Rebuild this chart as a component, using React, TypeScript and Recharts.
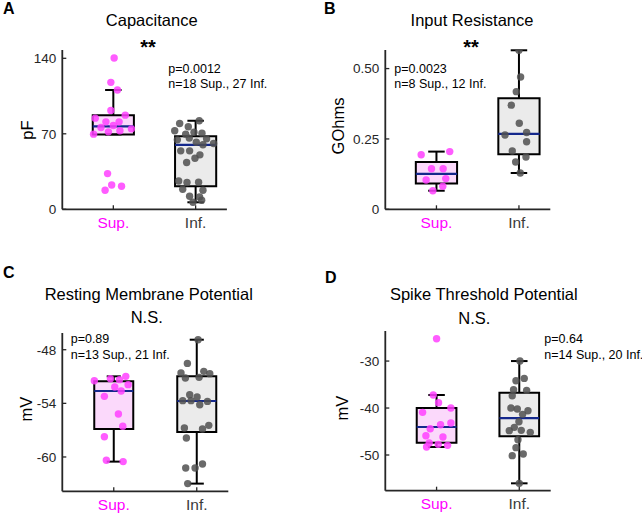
import React from "react";
import { ComposedChart, Scatter, XAxis, YAxis, ReferenceArea, ReferenceLine } from "recharts";

const groups = ["Sup.", "Inf."];
const groupColors = ["#ff00ff", "#3a3a3a"];
const pointColors = ["#ff40ff", "#505050"];
const boxFills = ["#fbd9fb", "#ebebeb"];

// box stats: [lower whisker, q1, median, q3, upper whisker]

// A: capacitance (pF)
const capSupStats = [69.4, 69.4, 76.8, 87.3, 110.6];
const capInfStats = [6.5, 21.4, 59.8, 67.8, 82.1];
const capSupX = [1.01, 0.97, 1.05, 0.97, 1.145, 0.78, 0.91, 1.07, 0.85, 1.0, 1.22, 0.94, 1.08, 0.76, 0.93, 0.98, 1.1, 0.9];
const capSupY = [140.3, 117.7, 110.6, 91.7, 87.3, 84.5, 81.1, 81.1, 75.9, 77.7, 74.6, 71.8, 72.8, 69.7, 33.1, 22.6, 21.4, 17.7];
const capInfX = [1.806, 2.044, 1.911, 1.746, 1.879, 1.98, 2.077, 1.778, 1.923, 2.008, 2.133, 2.218, 2.089, 1.819, 1.927, 2.052, 1.891, 1.992, 1.794, 1.895, 2.036, 1.843, 2.089, 1.927, 2.048, 1.968, 2.073];
const capInfY = [79.6, 82.1, 76.5, 72.8, 69.7, 71.5, 70.6, 64.4, 66.0, 62.2, 65.3, 61.0, 59.8, 54.2, 54.2, 50.5, 43.4, 47.4, 26.3, 24.8, 25.1, 18.6, 17.7, 12.1, 11.5, 6.5, 8.4];

// B: input resistance (GOhms)
const resSupStats = [0.066, 0.092, 0.126, 0.168, 0.205];
const resInfStats = [0.129, 0.196, 0.268, 0.395, 0.565];
const resSupX = [0.815, 1.161, 0.94, 1.081, 0.875, 1.113, 1.077, 0.956];
const resSupY = [0.194, 0.205, 0.144, 0.144, 0.104, 0.109, 0.082, 0.066];
const resInfX = [2.0, 2.02, 1.968, 1.907, 2.004, 1.831, 2.093, 2.093, 1.919, 2.085, 1.96, 2.016];
const resInfY = [0.565, 0.47, 0.418, 0.37, 0.306, 0.264, 0.273, 0.24, 0.207, 0.186, 0.168, 0.129];

// C: resting membrane potential (mV)
const rmpSupStats = [-60.52, -56.87, -52.62, -51.54, -50.98];
const rmpInfStats = [-62.98, -57.2, -53.74, -50.98, -46.88];
const rmpSupX = [0.766, 0.96, 1.145, 1.069, 1.173, 1.012, 1.089, 0.887, 1.056, 1.109, 0.887, 0.911, 1.113];
const rmpSupY = [-51.47, -51.24, -50.98, -51.35, -51.91, -52.17, -52.62, -53.22, -55.19, -56.57, -57.73, -60.37, -60.52];
const rmpInfX = [2.016, 1.887, 1.81, 1.863, 2.028, 2.085, 2.157, 1.915, 2.004, 1.831, 1.931, 2.036, 2.129, 1.851, 2.069, 2.145, 1.875, 1.867, 1.98, 2.069, 1.891];
const rmpInfY = [-46.88, -49.53, -50.61, -51.17, -51.09, -50.42, -50.68, -53.03, -53.29, -53.7, -53.7, -54.15, -53.78, -56.76, -56.87, -56.46, -57.88, -61.23, -61.23, -60.78, -62.98];

// D: spike threshold potential (mV)
const stpSupStats = [-48.3, -47.38, -44.04, -40.0, -37.23];
const stpInfStats = [-56.03, -46.03, -42.13, -36.74, -30];
const stpSupX = [1.0, 0.96, 1.024, 0.831, 1.173, 1.173, 1.048, 0.923, 0.871, 1.077, 0.911, 1.02, 1.133, 0.879];
const stpSupY = [-25.25, -37.23, -38.87, -40.92, -40.0, -43.19, -43.55, -44.4, -45.89, -46.17, -47.45, -47.73, -47.94, -48.3];
const stpInfX = [2.008, 1.96, 2.06, 1.931, 2.089, 1.915, 1.899, 1.976, 2.105, 2.04, 1.996, 1.94, 1.879, 2.024, 2.133, 1.984, 1.96, 2.048, 1.915, 2.0];
const stpInfY = [-30, -34.18, -33.69, -36.1, -36.24, -37.38, -40, -40.21, -40.57, -41.35, -42.91, -44.11, -44.82, -44.75, -45.18, -46.74, -48.44, -49.79, -50.14, -56.03];

const capTicks = [0, 70, 140];
const resTicks = [0, 0.25, 0.5];
const rmpTicks = [-60, -54, -48];
const stpTicks = [-50, -40, -30];

const titles = ["Capacitance", "Input Resistance", "Resting Membrane Potential", "Spike Threshold Potential"];
const letters = ["A", "B", "C", "D"];
const sigLabels = ["**", "**", "N.S.", "N.S."];
const pLabels = ["p=0.0012", "p=0.0023", "p=0.89", "p=0.64"];
const nLabels = ["n=18 Sup., 27 Inf.", "n=8 Sup., 12 Inf.", "n=13 Sup., 21 Inf.", "n=14 Sup., 20 Inf."];
const yLabels = ["pF", "GOhms", "mV", "mV"];

const FONT = "'Liberation Sans', Arial, Helvetica, sans-serif";
const AXIS = "#262626";

const toPoints = (xs: number[], ys: number[]) => xs.map((x, i) => ({ x, y: ys[i] }));

const XTick = (props: any) => {
  const { x, y, payload } = props;
  const i = Math.round(payload.value) - 1;
  return (
    <g>
      <line x1={x} x2={x} y1={y} y2={y - 4} stroke={AXIS} strokeWidth={1.3} />
      <text x={x} y={y + 18.4} textAnchor="middle" fontSize={15.5} fontFamily={FONT} fill={groupColors[i]}>
        {groups[i]}
      </text>
    </g>
  );
};

const makeYTick = (fmt: (v: number) => string) => (props: any) => {
  const { x, y, payload } = props;
  return (
    <g>
      <line x1={x} x2={x + 4} y1={y} y2={y} stroke={AXIS} strokeWidth={1.3} />
      <text x={x - 6} y={y} dy="0.36em" textAnchor="end" fontSize={13.5} fontFamily={FONT} fill={AXIS}>
        {fmt(payload.value)}
      </text>
    </g>
  );
};

type PanelProps = {
  left: number;
  top: number;
  plot: [number, number, number, number]; // left, top, right, bottom
  yDomain: [number, number];
  yTicks: number[];
  yFmt: (v: number) => string;
  boxW: number;
  capW: number;
  stats: number[][];
  points: { x: number; y: number }[][];
};

function Panel({ left, top, plot, yDomain, yTicks, yFmt, boxW, capW, stats, points }: PanelProps) {
  const yAxisW = 60;
  const xAxisH = 20;
  const margin = {
    left: plot[0] - yAxisW,
    top: plot[1],
    right: 321 - plot[2],
    bottom: 257 - plot[3] - xAxisH,
  };
  return (
    <div style={{ position: "absolute", left, top }}>
      <ComposedChart width={321} height={257} margin={margin}>
        <XAxis
          type="number"
          dataKey="x"
          domain={[0.38, 2.38]}
          ticks={[1, 2]}
          allowDataOverflow
          height={xAxisH}
          tickSize={0}
          tickMargin={0}
          tickLine={false}
          axisLine={{ stroke: AXIS, strokeWidth: 1.8 }}
          tick={XTick}
        />
        <YAxis
          type="number"
          dataKey="y"
          domain={yDomain}
          ticks={yTicks}
          allowDataOverflow
          width={yAxisW}
          tickSize={0}
          tickMargin={0}
          tickLine={false}
          axisLine={{ stroke: AXIS, strokeWidth: 1.8 }}
          tick={makeYTick(yFmt)}
        />
        {stats.map((s, i) => {
          const c = i + 1;
          const [, q1, , q3] = s;
          return (
            <ReferenceArea key={`box-${i}`} x1={c - boxW} x2={c + boxW} y1={q1} y2={q3} fill={boxFills[i]} fillOpacity={1} stroke="none" ifOverflow="visible" />
          );
        })}
        {points.map((pts, i) => (
          <Scatter
            key={`pts-${i}`}
            data={pts}
            isAnimationActive={false}
            shape={(p: any) => <circle cx={p.cx} cy={p.cy} r={3.7} fill={pointColors[i]} fillOpacity={0.85} />}
          />
        ))}
        {stats.map((s, i) => {
          const c = i + 1;
          const [lo, q1, med, q3, hi] = s;
          const line = { stroke: "#000", strokeWidth: 2, ifOverflow: "visible" as const };
          return (
            <React.Fragment key={`lines-${i}`}>
              <ReferenceArea x1={c - boxW} x2={c + boxW} y1={q1} y2={q3} fill="none" stroke="#000" strokeWidth={2} ifOverflow="visible" />
              <ReferenceLine segment={[{ x: c, y: q3 }, { x: c, y: hi }]} {...line} />
              <ReferenceLine segment={[{ x: c, y: lo }, { x: c, y: q1 }]} {...line} />
              <ReferenceLine segment={[{ x: c - capW, y: hi }, { x: c + capW, y: hi }]} {...line} />
              <ReferenceLine segment={[{ x: c - capW, y: lo }, { x: c + capW, y: lo }]} {...line} />
              <ReferenceLine segment={[{ x: c - boxW, y: med }, { x: c + boxW, y: med }]} stroke="#14288c" strokeWidth={2.2} ifOverflow="visible" />
            </React.Fragment>
          );
        })}
      </ComposedChart>
    </div>
  );
}

const fmtInt = (v: number) => String(v);
const fmt2 = (v: number) => (v === 0 ? "0" : v.toFixed(2));

export default function App() {
  const letterPos = [[3, 14], [324, 14], [3, 277.5], [325, 283]];
  const titlePos = [[151.7, 26], [472, 26], [148.8, 299.5], [483.8, 300.3]];
  const sigPos = [[148, 54], [471, 54], [146.7, 323], [474.3, 323.7]];
  const statPos = [[168.3, 72.7], [394.3, 72.7], [70.7, 343], [544.3, 343]];
  const yLabPos = [[26.7, 130], [338, 126], [25.8, 409], [341.8, 408]];

  return (
    <div style={{ position: "absolute", left: 0, top: 0, width: 642, height: 514, background: "#fff", fontFamily: FONT }}>
      <Panel
        left={0}
        top={0}
        plot={[62.3, 50, 226.9, 209.3]}
        yDomain={[0, 147.7]}
        yTicks={capTicks}
        yFmt={fmtInt}
        boxW={0.25}
        capW={0.1}
        stats={[capSupStats, capInfStats]}
        points={[toPoints(capSupX, capSupY), toPoints(capInfX, capInfY)]}
      />
      <Panel
        left={321}
        top={0}
        plot={[64.3, 50, 229.3, 209.3]}
        yDomain={[0, 0.566]}
        yTicks={resTicks}
        yFmt={fmt2}
        boxW={0.25}
        capW={0.1}
        stats={[resSupStats, resInfStats]}
        points={[toPoints(resSupX, resSupY), toPoints(resInfX, resInfY)]}
      />
      <Panel
        left={0}
        top={257}
        plot={[62.3, 76, 228.3, 234.3]}
        yDomain={[-63.84, -46.13]}
        yTicks={rmpTicks}
        yFmt={fmtInt}
        boxW={0.235}
        capW={0.085}
        stats={[rmpSupStats, rmpInfStats]}
        points={[toPoints(rmpSupX, rmpSupY), toPoints(rmpInfX, rmpInfY)]}
      />
      <Panel
        left={321}
        top={257}
        plot={[64.3, 74, 229.7, 233.7]}
        yDomain={[-57.6, -23.6]}
        yTicks={stpTicks}
        yFmt={fmtInt}
        boxW={0.24}
        capW={0.1}
        stats={[stpSupStats, stpInfStats]}
        points={[toPoints(stpSupX, stpSupY), toPoints(stpInfX, stpInfY)]}
      />
      <svg width={642} height={514} style={{ position: "absolute", left: 0, top: 0, pointerEvents: "none" }} fontFamily={FONT}>
        {letters.map((l, i) => (
          <text key={l} x={letterPos[i][0]} y={letterPos[i][1]} fontSize={16} fontWeight="bold" fill="#000">
            {l}
          </text>
        ))}
        {titles.map((t, i) => (
          <text key={t} x={titlePos[i][0]} y={titlePos[i][1]} fontSize={16.5} textAnchor="middle" fill="#000">
            {t}
          </text>
        ))}
        {sigLabels.map((s, i) => (
          <text
            key={`sig-${i}`}
            x={sigPos[i][0]}
            y={sigPos[i][1]}
            fontSize={s === "**" ? 20 : 16.5}
            fontWeight={s === "**" ? "bold" : "normal"}
            textAnchor="middle"
            fill="#000"
          >
            {s}
          </text>
        ))}
        {pLabels.map((p, i) => (
          <g key={`stat-${i}`}>
            <text x={statPos[i][0]} y={statPos[i][1]} fontSize={12.5} fill="#000">
              {p}
            </text>
            <text x={statPos[i][0]} y={statPos[i][1] + 15.7} fontSize={12.5} fill="#000">
              {nLabels[i]}
            </text>
          </g>
        ))}
        {yLabels.map((l, i) => (
          <text
            key={`yl-${i}`}
            x={yLabPos[i][0]}
            y={yLabPos[i][1]}
            fontSize={16.5}
            textAnchor="middle"
            dominantBaseline="central"
            transform={`rotate(-90 ${yLabPos[i][0]} ${yLabPos[i][1]})`}
            fill="#000"
          >
            {l}
          </text>
        ))}
      </svg>
    </div>
  );
}
